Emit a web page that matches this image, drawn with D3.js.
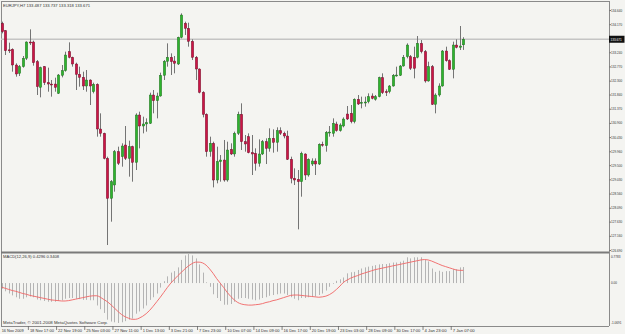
<!DOCTYPE html>
<html><head><meta charset="utf-8">
<script src="https://cdn.jsdelivr.net/npm/d3@7"></script>
<style>html,body{margin:0;padding:0;background:#f4f4f1;}svg{display:block;}</style>
</head><body><svg id="c" width="625" height="334"></svg>
<script>
const openP=[134.198,133.955,133.320,133.337,132.818,132.542,132.763,133.039,133.580,133.580,132.928,132.078,132.763,132.233,132.188,132.188,131.879,132.476,132.630,133.260,133.072,132.851,132.509,132.409,132.122,132.321,131.934,132.177,130.698,130.554,129.726,128.401,128.843,129.947,129.781,130.168,129.726,130.113,129.594,131.162,130.797,130.864,130.886,131.824,131.636,131.791,132.476,132.939,133.072,132.950,132.851,133.734,134.198,134.033,133.602,133.072,132.685,131.912,131.184,129.947,130.223,129.008,129.616,129.671,129.008,130.024,129.870,130.554,131.184,130.278,130.444,129.914,129.892,129.561,129.870,130.278,130.057,130.389,130.256,130.643,130.554,130.466,129.693,129.064,129.030,128.953,129.870,129.174,129.538,129.638,129.538,130.190,130.146,130.587,130.554,130.864,130.643,130.797,131.195,131.217,130.941,131.681,131.570,131.592,131.603,131.791,131.681,131.769,132.398,131.934,131.934,132.122,132.476,132.476,132.785,133.094,133.094,133.072,133.072,133.535,133.260,132.288,132.763,131.515,131.824,132.122,133.282,132.961,132.674,133.480,133.403,133.487];
const highP=[134.253,133.977,133.558,133.370,132.873,132.818,133.116,133.602,133.999,133.624,132.983,132.763,132.785,132.730,132.321,132.398,132.520,132.818,133.260,133.569,133.094,132.895,132.763,132.597,132.652,132.343,132.233,132.211,131.217,130.576,129.781,129.008,130.002,130.113,130.223,130.797,130.311,130.146,131.217,131.272,131.106,131.051,131.901,131.990,131.901,132.564,132.983,133.535,133.204,133.116,133.756,134.529,134.253,134.220,133.668,133.116,132.707,131.950,131.217,130.444,130.278,130.113,129.836,130.334,130.278,130.223,130.610,131.272,131.548,130.499,130.554,130.499,130.057,130.355,130.334,130.389,130.720,130.687,130.753,130.753,130.610,130.643,129.781,129.395,129.340,129.947,129.892,129.726,129.726,129.726,130.223,130.278,130.632,130.797,131.051,130.941,130.886,131.084,131.460,131.493,131.714,131.824,131.769,131.769,131.879,131.879,131.824,132.431,132.542,132.012,132.155,132.520,132.763,132.818,133.149,133.535,133.149,133.425,133.778,133.646,133.315,132.928,132.818,131.879,132.211,133.315,133.425,133.006,133.591,133.668,134.110,133.737];
const lowP=[133.867,133.149,133.215,132.597,132.431,132.453,132.730,132.983,133.480,132.796,131.824,131.747,132.155,131.934,131.769,131.934,131.857,132.409,132.597,133.039,132.763,131.990,132.100,131.990,131.934,131.493,131.879,130.444,130.444,129.693,126.855,127.628,128.622,129.505,129.450,129.671,129.119,128.953,129.340,130.057,130.554,130.610,130.864,131.217,131.051,131.769,132.321,132.763,132.487,132.542,132.818,133.701,133.812,133.425,132.983,132.321,131.879,131.084,129.781,129.781,128.765,128.898,128.953,128.953,128.953,129.836,129.781,130.499,130.002,129.947,129.892,129.174,129.318,129.450,129.836,129.538,129.947,129.914,129.947,130.499,130.389,129.671,128.898,128.843,127.374,128.456,129.008,129.119,129.472,129.174,129.505,130.113,129.947,130.444,130.444,130.610,130.610,130.753,130.996,130.886,130.886,131.493,131.382,131.438,131.548,131.681,131.636,131.747,131.857,131.791,131.879,132.100,132.431,132.453,132.763,133.039,132.652,132.376,133.039,133.204,132.233,132.266,131.493,131.217,131.769,132.100,132.928,132.652,132.376,133.370,133.315,133.318];
const closeP=[133.922,133.293,133.300,132.818,132.520,132.763,133.039,133.580,133.558,132.895,132.100,132.730,132.233,132.188,132.180,132.078,132.487,132.630,133.149,133.072,132.851,132.509,132.409,132.122,132.321,132.122,132.177,130.698,130.554,129.726,128.401,128.953,129.947,129.561,130.135,129.726,130.113,129.594,131.162,130.797,130.864,130.908,131.824,131.636,131.791,132.476,132.939,133.072,132.928,132.873,133.734,134.474,134.033,133.602,133.072,132.685,131.912,131.184,129.947,130.223,129.008,129.616,129.671,129.008,130.002,129.870,130.554,131.184,130.278,130.201,129.914,129.870,129.561,129.870,130.278,130.057,130.389,130.256,130.643,130.554,130.466,129.693,129.064,129.008,128.953,129.892,129.174,129.693,129.638,129.538,130.190,130.168,130.587,130.598,130.886,130.643,130.831,131.029,131.029,130.941,131.681,131.526,131.581,131.592,131.769,131.714,131.769,132.398,131.901,131.901,132.122,132.476,132.487,132.785,133.072,133.480,132.707,132.707,133.535,133.260,132.288,132.763,131.515,131.824,132.122,133.282,132.961,132.674,133.480,133.403,133.447,133.671];
const macdHist=[-0.15,-0.22,-0.28,-0.33,-0.38,-0.42,-0.42,-0.38,-0.36,-0.38,-0.44,-0.46,-0.48,-0.50,-0.50,-0.50,-0.48,-0.46,-0.42,-0.40,-0.40,-0.42,-0.43,-0.45,-0.45,-0.46,-0.46,-0.60,-0.70,-0.80,-0.98,-1.03,-1.05,-1.069,-1.05,-1.02,-0.98,-0.95,-0.82,-0.76,-0.68,-0.60,-0.45,-0.38,-0.28,-0.12,0.05,0.18,0.28,0.32,0.42,0.62,0.74,0.778,0.74,0.66,0.50,0.28,0.02,-0.10,-0.30,-0.40,-0.48,-0.58,-0.58,-0.56,-0.50,-0.42,-0.40,-0.40,-0.42,-0.44,-0.46,-0.44,-0.40,-0.38,-0.34,-0.32,-0.30,-0.28,-0.28,-0.32,-0.38,-0.42,-0.46,-0.40,-0.40,-0.38,-0.37,-0.36,-0.32,-0.28,-0.20,-0.10,-0.02,0.06,0.10,0.15,0.26,0.29,0.30,0.35,0.39,0.42,0.44,0.46,0.48,0.50,0.51,0.51,0.53,0.55,0.55,0.57,0.60,0.69,0.66,0.69,0.69,0.69,0.62,0.58,0.39,0.30,0.33,0.30,0.32,0.32,0.37,0.37,0.42,0.4296];
const macdSignal=[-0.11,-0.14,-0.17,-0.20,-0.22,-0.25,-0.28,-0.30,-0.33,-0.35,-0.37,-0.39,-0.41,-0.43,-0.45,-0.46,-0.47,-0.48,-0.48,-0.47,-0.45,-0.43,-0.41,-0.39,-0.37,-0.35,-0.34,-0.34,-0.38,-0.44,-0.50,-0.58,-0.67,-0.76,-0.84,-0.90,-0.94,-0.97,-0.97,-0.94,-0.89,-0.82,-0.73,-0.62,-0.50,-0.38,-0.25,-0.12,0.00,0.10,0.20,0.29,0.38,0.46,0.52,0.56,0.56,0.54,0.48,0.38,0.26,0.12,0.00,-0.12,-0.25,-0.36,-0.45,-0.52,-0.56,-0.58,-0.59,-0.59,-0.58,-0.57,-0.55,-0.52,-0.50,-0.47,-0.45,-0.42,-0.39,-0.36,-0.33,-0.32,-0.32,-0.33,-0.34,-0.35,-0.36,-0.37,-0.38,-0.37,-0.35,-0.31,-0.25,-0.17,-0.08,0.02,0.08,0.13,0.17,0.20,0.24,0.27,0.30,0.33,0.36,0.38,0.40,0.42,0.44,0.46,0.48,0.50,0.52,0.54,0.56,0.58,0.60,0.62,0.63,0.62,0.59,0.55,0.51,0.47,0.44,0.41,0.38,0.35,0.34,0.3408];
const priceTicks=[134.640,134.170,133.240,132.770,132.300,131.840,131.370,130.900,130.430,129.960,129.500,129.030,128.560,128.090,127.630,127.160,126.690];
const currentPrice=133.671;
const macdTickVals=[0.7783,0,-1.0691];
const macdTickText=["0.7783","0.00","-1.0691"];
const dateIdx=[0,8,16,24,32,40,48,56,64,72,80,88,96,104,112,120,128];
const dateLabels=["16 Nov 2009","18 Nov 17:00","22 Nov 19:00","25 Nov 03:00","27 Nov 11:00","1 Dec 13:00","3 Dec 21:00","7 Dec 23:00","10 Dec 07:00","14 Dec 09:00","16 Dec 17:00","20 Dec 19:00","23 Dec 03:00","28 Dec 09:00","30 Dec 17:00","4 Jan 23:00","7 Jan 07:00"];
const titleText="EURJPY,H7 133.487 133.737 133.318 133.671";
const macdTitle="MACD(12,26,9) 0.4296 0.3408";
const copyright="MetaTrader, \u00a9 2001-2008 MetaQuotes Software Corp.";

const svg=d3.select("#c");
const W=625,H=334, L=1, R=609, mainTop=1, mainBot=252, macdBot=326;
const FONT="'Liberation Sans', Arial, sans-serif", FS=4.4, TXT="#333", CW=2.0, SX=0.7;
svg.append("rect").attr("width",W).attr("height",H).attr("fill","#f4f4f1");

const n=openP.length;
const x=d3.scaleLinear().domain([0,131]).range([1.7,463.3]);
const y=d3.scaleLinear().domain([126.69,134.64]).range([250,10]);
const ym=d3.scaleLinear().domain([-1.0691,0.7783]).range([323,254]);

// frames
const g=svg.append("g");
g.append("line").attr("x1",L).attr("x2",R).attr("y1",mainTop+0.5).attr("y2",mainTop+0.5).attr("stroke","#8a8a8a");
g.append("line").attr("x1",L+0.5).attr("x2",L+0.5).attr("y1",mainTop).attr("y2",macdBot).attr("stroke","#8a8a8a");
g.append("line").attr("x1",R+0.5).attr("x2",R+0.5).attr("y1",mainTop).attr("y2",macdBot).attr("stroke","#8a8a8a");
g.append("rect").attr("x",L).attr("y",mainBot-0.5).attr("width",R-L).attr("height",2).attr("fill","#7a7a7a");
g.append("line").attr("x1",L).attr("x2",R).attr("y1",macdBot+0.5).attr("y2",macdBot+0.5).attr("stroke","#8a8a8a");

// current price line
g.append("line").attr("x1",L).attr("x2",R).attr("y1",y(currentPrice)).attr("y2",y(currentPrice)).attr("stroke","#c4c4c4").attr("stroke-width",1.3);

// price axis (ticks via d3 axis, labels narrowed to fit the right edge)
const ax=svg.append("g").attr("transform",`translate(${R},0)`);
ax.call(d3.axisRight(y).tickValues(priceTicks).tickSize(2).tickFormat(""));
ax.select(".domain").remove();
ax.selectAll("line").attr("stroke","#777");
const fmt=d3.format(".3f");
svg.append("g").selectAll("text").data(priceTicks).join("text")
  .attr("transform",d=>`translate(${R+2},${y(d)}) scale(${SX},1)`).attr("dy","0.35em")
  .attr("font-family",FONT).attr("font-size",FS).attr("fill",TXT).text(d=>fmt(d));
svg.append("rect").attr("x",R).attr("y",y(currentPrice)-3.5).attr("width",15.5).attr("height",7).attr("fill","#111");
svg.append("text").attr("transform",`translate(${R+1.5},${y(currentPrice)}) scale(${SX},1)`).attr("dy","0.35em")
  .attr("font-family",FONT).attr("font-size",FS).attr("fill","#fff").text(fmt(currentPrice));

// macd axis
svg.append("g").selectAll("text").data(macdTickVals).join("text")
  .attr("transform",(d,i)=>`translate(${R+2},${i===0?ym(d)+2:ym(d)-0.5}) scale(${SX},1)`).attr("dy","0.35em")
  .attr("font-family",FONT).attr("font-size",FS).attr("fill",TXT).text((d,i)=>macdTickText[i]);

// candles
const idx=d3.range(n);
const cg=svg.append("g");
cg.selectAll("line.w").data(idx).join("line").attr("class","w")
  .attr("x1",i=>Math.round(x(i))+0.5).attr("x2",i=>Math.round(x(i))+0.5)
  .attr("y1",i=>y(highP[i])).attr("y2",i=>y(lowP[i])).attr("stroke","#747474").attr("stroke-width",1);
cg.selectAll("rect.b").data(idx).join("rect").attr("class","b")
  .attr("x",i=>Math.round(x(i))-0.7).attr("width",2.4)
  .attr("y",i=>y(Math.max(openP[i],closeP[i])))
  .attr("height",i=>Math.max(1,Math.abs(y(openP[i])-y(closeP[i]))))
  .attr("fill",i=>closeP[i]>=openP[i]?"#2db42d":"#cc1446")
  .attr("stroke",i=>closeP[i]>=openP[i]?"#1d5e1d":"#5e0c22").attr("stroke-width",0.4);

// macd histogram
const mg=svg.append("g");
mg.selectAll("line").data(idx).join("line")
  .attr("x1",i=>Math.round(x(i))+0.5).attr("x2",i=>Math.round(x(i))+0.5)
  .attr("y1",ym(0)).attr("y2",i=>ym(macdHist[i])).attr("stroke","#b4b4b4").attr("stroke-width",1);
mg.append("path").datum(idx).attr("fill","none").attr("stroke","#f06464").attr("stroke-width",0.9)
  .attr("d",d3.line().x(i=>x(i)).y(i=>ym(macdSignal[i])).curve(d3.curveMonotoneX));

// texts
const T=(tx,xx,yy,len)=>svg.append("text").attr("x",xx).attr("y",yy).attr("dy","0.35em").attr("font-family",FONT).attr("font-size",FS).attr("fill",TXT)
  .attr("textLength",len).attr("lengthAdjust","spacingAndGlyphs").text(tx);
T(titleText,3,5,87);
T(macdTitle,3,256,56);
T(copyright,3,322,105);

// date axis
const dg=svg.append("g");
dg.selectAll("text").data(dateIdx).join("text").attr("x",i=>x(i)).attr("y",330).attr("dy","0.35em")
  .attr("font-family",FONT).attr("font-size",FS).attr("fill",TXT)
  .attr("textLength",(d,k)=>dateLabels[k].length*CW).attr("lengthAdjust","spacingAndGlyphs")
  .text((d,k)=>dateLabels[k]);
dg.selectAll("line").data(dateIdx.slice(1)).join("line").attr("x1",i=>x(i)-1.5).attr("x2",i=>x(i)-1.5)
  .attr("y1",macdBot).attr("y2",macdBot+4).attr("stroke","#666").attr("stroke-width",0.8);
</script></body></html>
